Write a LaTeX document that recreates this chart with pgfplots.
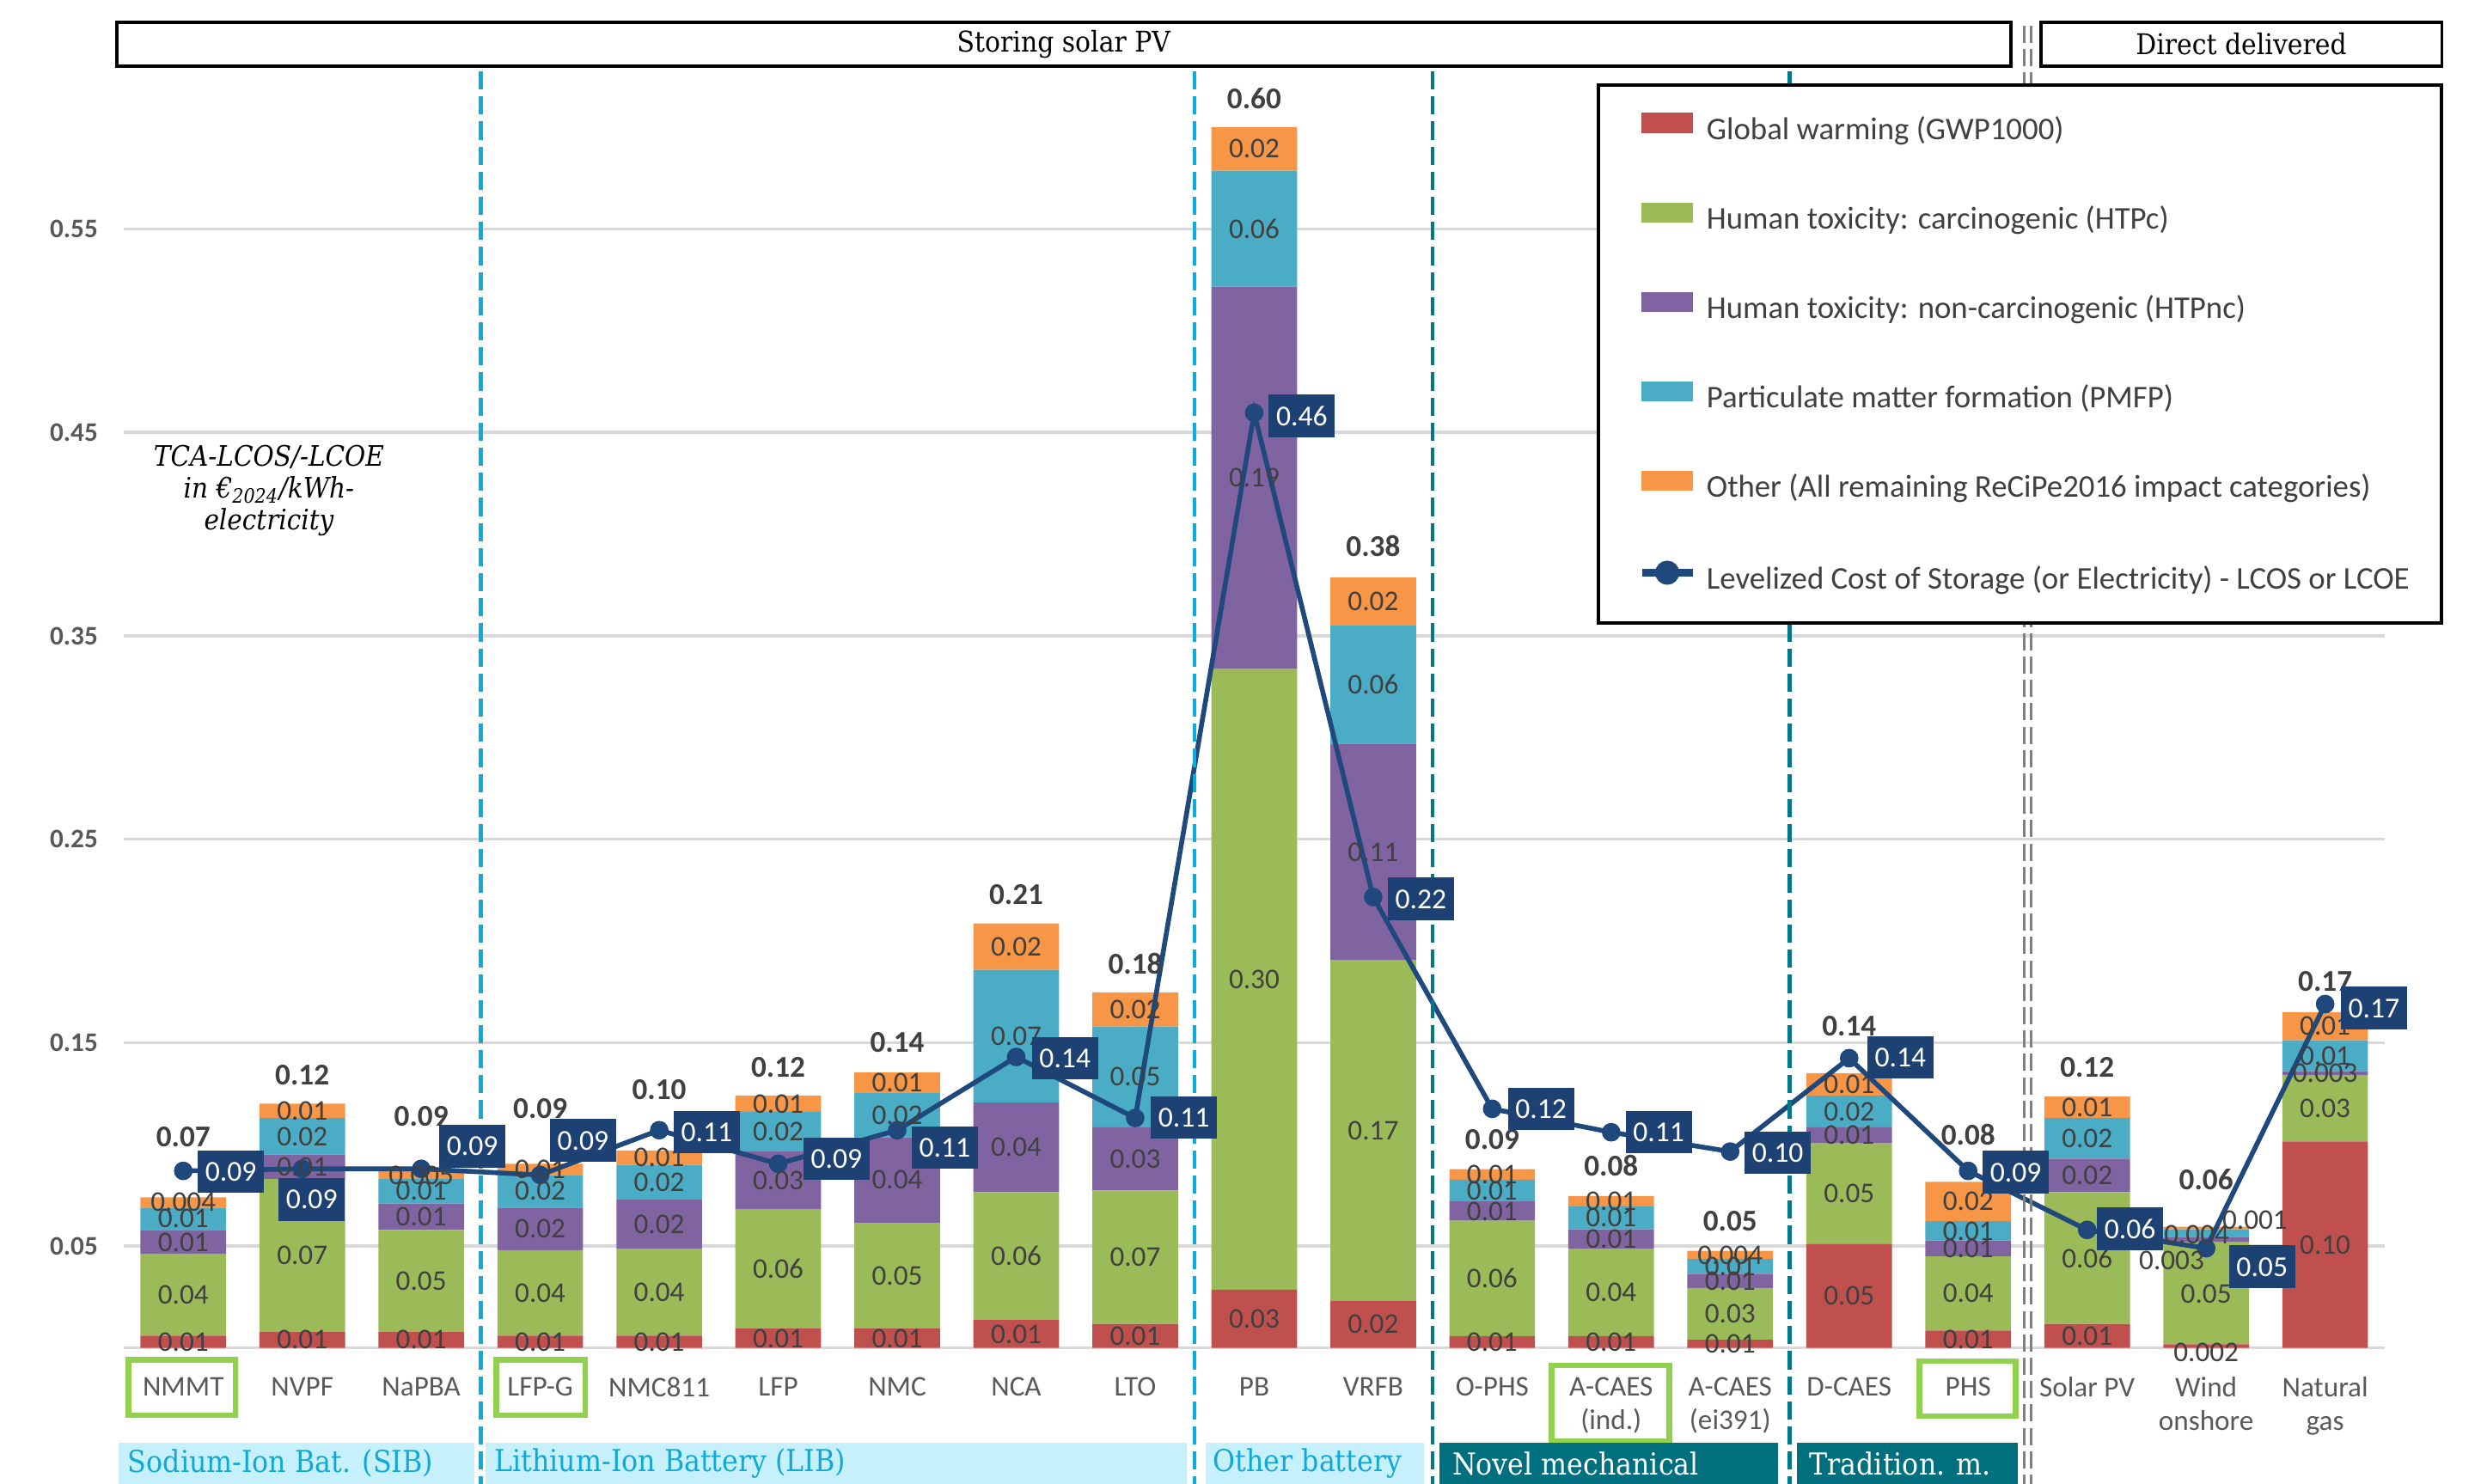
\documentclass[border=0pt]{standalone}
\usepackage{pgfplots}
\pgfplotsset{compat=1.18}
\usepackage{pgfplotstable}
\usepackage{fontspec}
\setmainfont{Carlito}
\newfontfamily\slab{DejaVu Serif}[FakeStretch=0.9]
\definecolor{gwred}{HTML}{C0504D}
\definecolor{htpcgreen}{HTML}{9BBB59}
\definecolor{htpncpurple}{HTML}{8064A2}
\definecolor{pmfpcyan}{HTML}{4BACC6}
\definecolor{otherorange}{HTML}{F79646}
\definecolor{lcosblue}{HTML}{1F497D}
\definecolor{boxblue}{HTML}{1D4172}
\definecolor{textgray}{HTML}{404040}
\definecolor{tickgray}{HTML}{595959}
\definecolor{gridgray}{HTML}{D9D9D9}
\definecolor{sepcyan}{HTML}{0AAEDC}
\definecolor{septeal}{HTML}{00788A}
\definecolor{grplight}{HTML}{C6F0FC}
\definecolor{grptext}{HTML}{12A8D6}
\definecolor{grpdark}{HTML}{00707F}
\definecolor{greenbox}{HTML}{92D050}
\definecolor{dblgray}{HTML}{808080}

\pgfplotstableread{
x gw htpc htpnc pmfp other lcos
0 0.006 0.040 0.012 0.011 0.005 0.087
1 0.008 0.075 0.012 0.018 0.007 0.088
2 0.008 0.050 0.013 0.012 0.004 0.088
3 0.006 0.042 0.021 0.016 0.0055 0.085
4 0.006 0.0426 0.0244 0.017 0.007 0.107
5 0.0095 0.0585 0.0285 0.0195 0.008 0.0905
6 0.0095 0.052 0.042 0.022 0.010 0.107
7 0.0137 0.0628 0.0441 0.0652 0.0228 0.143
8 0.0118 0.0656 0.031 0.0496 0.0167 0.113
9 0.0286 0.305 0.188 0.057 0.0214 0.4596
10 0.0231 0.1674 0.1065 0.058 0.0237 0.2216
11 0.0058 0.0567 0.0095 0.0107 0.0051 0.1175
12 0.0058 0.0428 0.0097 0.0113 0.0051 0.106
13 0.004 0.0255 0.0069 0.0073 0.004 0.0965
14 0.051 0.0495 0.0079 0.0156 0.011 0.1424
15 0.0086 0.0364 0.0078 0.0095 0.0193 0.087
16 0.0118 0.0647 0.0165 0.020 0.0105 0.058
17 0.0018 0.0501 0.0027 0.0037 0.0013 0.049
18 0.1015 0.0324 0.0021 0.0152 0.0138 0.169
}\bars

\pgfplotstableread{
x y l
0 0.003 0.01
0 0.026 0.04
0 0.052 0.01
0 0.0635 0.01
0 0.0715 0.004
1 0.004 0.01
1 0.0455 0.07
1 0.089 0.01
1 0.104 0.02
1 0.1165 0.01
2 0.004 0.01
2 0.033 0.05
2 0.0645 0.01
2 0.077 0.01
2 0.085 0.005
3 0.003 0.01
3 0.027 0.04
3 0.0585 0.02
3 0.077 0.02
3 0.0878 0.01
4 0.003 0.01
4 0.0273 0.04
4 0.0608 0.02
4 0.0815 0.02
4 0.0935 0.01
5 0.00475 0.01
5 0.03875 0.06
5 0.08225 0.03
5 0.10625 0.02
5 0.120 0.01
6 0.00475 0.01
6 0.0355 0.05
6 0.0825 0.04
6 0.1145 0.02
6 0.1305 0.01
7 0.00685 0.01
7 0.0451 0.06
7 0.09855 0.04
7 0.1532 0.07
7 0.1972 0.02
8 0.0059 0.01
8 0.0446 0.07
8 0.0929 0.03
8 0.1332 0.05
8 0.16635 0.02
9 0.0143 0.03
9 0.1811 0.30
9 0.4276 0.19
9 0.5501 0.06
9 0.5893 0.02
10 0.01155 0.02
10 0.1068 0.17
10 0.24375 0.11
10 0.326 0.06
10 0.36685 0.02
11 0.0029 0.01
11 0.03415 0.06
11 0.06725 0.01
11 0.07735 0.01
11 0.08525 0.01
12 0.0029 0.01
12 0.0272 0.04
12 0.05345 0.01
12 0.06395 0.01
12 0.07215 0.01
13 0.002 0.01
13 0.01675 0.03
13 0.03295 0.01
13 0.04005 0.01
13 0.0457 0.004
14 0.0255 0.05
14 0.07575 0.05
14 0.10445 0.01
14 0.1162 0.02
14 0.1295 0.01
15 0.0043 0.01
15 0.0268 0.04
15 0.0489 0.01
15 0.05755 0.01
15 0.07195 0.02
16 0.0059 0.01
16 0.04415 0.06
16 0.08475 0.02
16 0.103 0.02
16 0.11825 0.01
17 -0.002 0.002
17 0.0265 0.05
16.71 0.043 0.003
16.92 0.0556 0.004
17.41 0.063 0.001
18 0.05075 0.10
18 0.1177 0.03
18 0.135 0.003
18 0.1436 0.01
18 0.1581 0.01
}\seglab

\pgfplotstableread{
x y l
0 0.1035 0.07
1 0.134 0.12
2 0.114 0.09
3 0.1175 0.09
4 0.127 0.10
5 0.138 0.12
6 0.150 0.14
7 0.223 0.21
8 0.189 0.18
9 0.614 0.60
10 0.394 0.38
11 0.1026 0.09
12 0.0896 0.08
13 0.0625 0.05
14 0.158 0.14
15 0.105 0.08
16 0.138 0.12
17 0.0829 0.06
18 0.180 0.17
}\totlab

\pgfplotstableread{
x y l
0.40 0.0867 0.09
1.08 0.073 0.09
2.43 0.0992 0.09
3.36 0.102 0.09
4.40 0.106 0.11
5.49 0.093 0.09
6.40 0.0985 0.11
7.41 0.1423 0.14
8.41 0.1133 0.11
9.40 0.458 0.46
10.40 0.2208 0.22
11.41 0.1175 0.12
12.40 0.106 0.11
13.40 0.096 0.10
14.43 0.1428 0.14
15.40 0.0863 0.09
16.36 0.0586 0.06
17.47 0.040 0.05
18.41 0.167 0.17
}\lcoslab

\pgfplotsset{base/.style={
  width=657.7pt, height=367pt, scale only axis,
  xmin=-0.5, xmax=18.5, ymin=0, ymax=0.62,
  clip=false,
  axis line style={draw=none},
  major tick length=0pt, minor tick length=0pt,
}}

\begin{document}
\begin{tikzpicture}
\begin{axis}[base,
  ybar stacked, bar width=0.72,
  ymajorgrids,
  grid style={draw=gridgray, line width=0.9pt},
  ytick={0.05,0.15,0.25,0.35,0.45,0.55},
  extra y ticks={0}, extra y tick labels={},
  scaled y ticks=false,
  /pgf/number format/fixed, /pgf/number format/fixed zerofill,
  /pgf/number format/precision=2, /pgf/number format/assume math mode=true,
  yticklabel style={font=\bfseries\fontsize{7.8}{9}\selectfont, text=tickgray, xshift=-4pt},
  xtick={0,...,18},
  xticklabels={NMMT,NVPF,NaPBA,LFP-G,NMC811,LFP,NMC,NCA,LTO,PB,VRFB,O-PHS,{A-CAES\\(ind.)},{A-CAES\\(ei391)},D-CAES,PHS,Solar PV,{Wind\\onshore},{Natural\\gas}},
  xticklabel style={font=\fontsize{8.3}{9.7}\selectfont, text=tickgray, align=center, anchor=north, yshift=-5pt},
]
\addplot[fill=gwred, draw=none] table[x=x, y=gw] {\bars};
\addplot[fill=htpcgreen, draw=none] table[x=x, y=htpc] {\bars};
\addplot[fill=htpncpurple, draw=none] table[x=x, y=htpnc] {\bars};
\addplot[fill=pmfpcyan, draw=none] table[x=x, y=pmfp] {\bars};
\addplot[fill=otherorange, draw=none] table[x=x, y=other] {\bars};

% green highlight boxes
\draw[greenbox, line width=1.6pt] (axis cs:-0.46,-0.0058) rectangle (axis cs:0.44,-0.0331);
\draw[greenbox, line width=1.6pt] (axis cs:2.63,-0.0058) rectangle (axis cs:3.38,-0.0331);
\draw[greenbox, line width=1.6pt] (axis cs:11.50,-0.0086) rectangle (axis cs:12.49,-0.0457);
\draw[greenbox, line width=1.6pt] (axis cs:14.59,-0.0066) rectangle (axis cs:15.40,-0.0336);

% canvas corners
\coordinate (bbA) at (axis cs:-1.54,-0.0668);
\coordinate (bbB) at (axis cs:19.31,0.6625);
\end{axis}

\begin{axis}[base, xtick=\empty, ytick=\empty,
  legend style={at={(axis cs:12.22,0.6073)}, anchor=north west, draw=none, fill=none,
    inner sep=0pt, row sep=16.5pt, column sep=3pt,
    font=\fontsize{9.2}{11}\selectfont, text=textgray,
    nodes={inner sep=0pt, text height=6.6pt, text depth=1.9pt}},
  legend cell align=left,
]
\addlegendimage{legend image code/.code={\fill[gwred] (0pt,-0.3pt) rectangle (14.75pt,5.1pt);}}
\addlegendentry{Global warming (GWP1000)}
\addlegendimage{legend image code/.code={\fill[htpcgreen] (0pt,-0.3pt) rectangle (14.75pt,5.1pt);}}
\addlegendentry{Human toxicity: carcinogenic (HTPc)}
\addlegendimage{legend image code/.code={\fill[htpncpurple] (0pt,-0.3pt) rectangle (14.75pt,5.1pt);}}
\addlegendentry{Human toxicity: non-carcinogenic (HTPnc)}
\addlegendimage{legend image code/.code={\fill[pmfpcyan] (0pt,-0.3pt) rectangle (14.75pt,5.1pt);}}
\addlegendentry{Particulate matter formation (PMFP)}
\addlegendimage{legend image code/.code={\fill[otherorange] (0pt,-0.3pt) rectangle (14.75pt,5.1pt);}}
\addlegendentry{Other (All remaining ReCiPe2016 impact categories)}

\addplot[lcosblue, line width=1.4pt, mark=*, mark size=2pt, mark options={fill=lcosblue},
  legend image code/.code={\draw[lcosblue, line width=2.2pt] (0pt,2.4pt)--(14.75pt,2.4pt); \fill[lcosblue] (7.4pt,2.4pt) circle (2.8pt);}]
  table[x=x, y=lcos] {\bars};
\addlegendentry{Levelized Cost of Storage (or Electricity) - LCOS or LCOE}

% segment labels
\addplot[forget plot, draw=none, mark=none, nodes near coords, point meta=explicit symbolic,
  every node near coord/.append style={anchor=center, inner sep=0pt, text=textgray, font=\fontsize{8.3}{9}\selectfont}]
  table[x=x, y=y, meta=l] {\seglab};
% totals
\addplot[forget plot, draw=none, mark=none, nodes near coords, point meta=explicit symbolic,
  every node near coord/.append style={anchor=center, inner sep=0pt, text=textgray, font=\bfseries\fontsize{8.8}{10}\selectfont}]
  table[x=x, y=y, meta=l] {\totlab};
% LCOS boxes
\addplot[forget plot, draw=none, mark=none, nodes near coords, point meta=explicit symbolic,
  every node near coord/.append style={anchor=center, fill=boxblue, text=white, inner xsep=2.2pt, inner ysep=3.4pt, text height=5.6pt, text depth=0pt, font=\fontsize{8.4}{9}\selectfont}]
  table[x=x, y=y, meta=l] {\lcoslab};

% axis note
\node[font=\slab\itshape\fontsize{8.2}{9.3}\selectfont, align=center, text=black] at (axis cs:0.72,0.4213) {TCA-LCOS/-LCOE\\in €\textsubscript{2024}/kWh-\\electricity};

% group label bars (text attached to the paths)
\path[fill=grplight] (axis cs:-0.543,-0.0466) rectangle (axis cs:2.446,-0.0668)
  (axis cs:-0.47,-0.0567) node[anchor=west, inner sep=0pt, align=left, text=grptext, font=\slab\fontsize{8.8}{9}\selectfont] {Sodium-Ion Bat. (SIB)};
\path[fill=grplight] (axis cs:2.54,-0.0466) rectangle (axis cs:8.433,-0.0668)
  (axis cs:2.61,-0.0567) node[anchor=west, inner sep=0pt, align=left, text=grptext, font=\slab\fontsize{8.8}{9}\selectfont] {Lithium-Ion Battery (LIB)};
\path[fill=grplight] (axis cs:8.59,-0.0466) rectangle (axis cs:10.43,-0.0668)
  (axis cs:8.65,-0.0567) node[anchor=west, inner sep=0pt, align=left, text=grptext, font=\slab\fontsize{8.8}{9}\selectfont] {Other battery};
\path[fill=grpdark] (axis cs:10.56,-0.0466) rectangle (axis cs:13.40,-0.0668)
  (axis cs:10.66,-0.0567) node[anchor=west, inner sep=0pt, align=left, text=white, font=\slab\fontsize{8.8}{9}\selectfont] {Novel mechanical};
\path[fill=grpdark] (axis cs:13.56,-0.0466) rectangle (axis cs:15.42,-0.0668)
  (axis cs:13.66,-0.0567) node[anchor=west, inner sep=0pt, align=left, text=white, font=\slab\fontsize{8.8}{9}\selectfont] {Tradition. m.};

% separators
\draw[sepcyan, line width=1.1pt, dash pattern=on 5.3pt off 2pt] (axis cs:2.5,0.6274) -- (axis cs:2.5,-0.0668);
\draw[sepcyan, line width=1.1pt, dash pattern=on 5.3pt off 2pt] (axis cs:8.5,0.6274) -- (axis cs:8.5,-0.0668);
\draw[septeal, line width=1.1pt, dash pattern=on 5.3pt off 2pt] (axis cs:10.5,0.6274) -- (axis cs:10.5,-0.0668);
\draw[septeal, line width=1.1pt, dash pattern=on 5.3pt off 2pt] (axis cs:13.5,0.6274) -- (axis cs:13.5,-0.0668);
\draw[dblgray, line width=0.9pt, dash pattern=on 5pt off 1.8pt] (axis cs:15.471,0.650) -- (axis cs:15.471,-0.0668);
\draw[dblgray, line width=0.9pt, dash pattern=on 5pt off 1.8pt] (axis cs:15.529,0.650) -- (axis cs:15.529,-0.0668);

% header boxes (text attached to the paths)
\path[draw=black, line width=0.9pt, fill=white] (axis cs:-0.558,0.6515) rectangle (axis cs:15.359,0.630)
  (axis cs:7.40,0.6408) node[align=center, inner sep=0pt, text=black, font=\slab\fontsize{8.3}{9}\selectfont] {Storing solar PV};
\path[draw=black, line width=0.9pt, fill=white] (axis cs:15.61,0.6515) rectangle (axis cs:18.98,0.630)
  (axis cs:17.295,0.6408) node[align=center, inner sep=0pt, text=black, font=\slab\fontsize{8.3}{9}\selectfont] {Direct delivered};

% legend frame
\draw[black, line width=1pt, fill=white] (axis cs:11.89,0.6206) rectangle (axis cs:18.98,0.3562);
\end{axis}
\pgfresetboundingbox
\path[use as bounding box] (bbA) rectangle (bbB);
\end{tikzpicture}
\end{document}
